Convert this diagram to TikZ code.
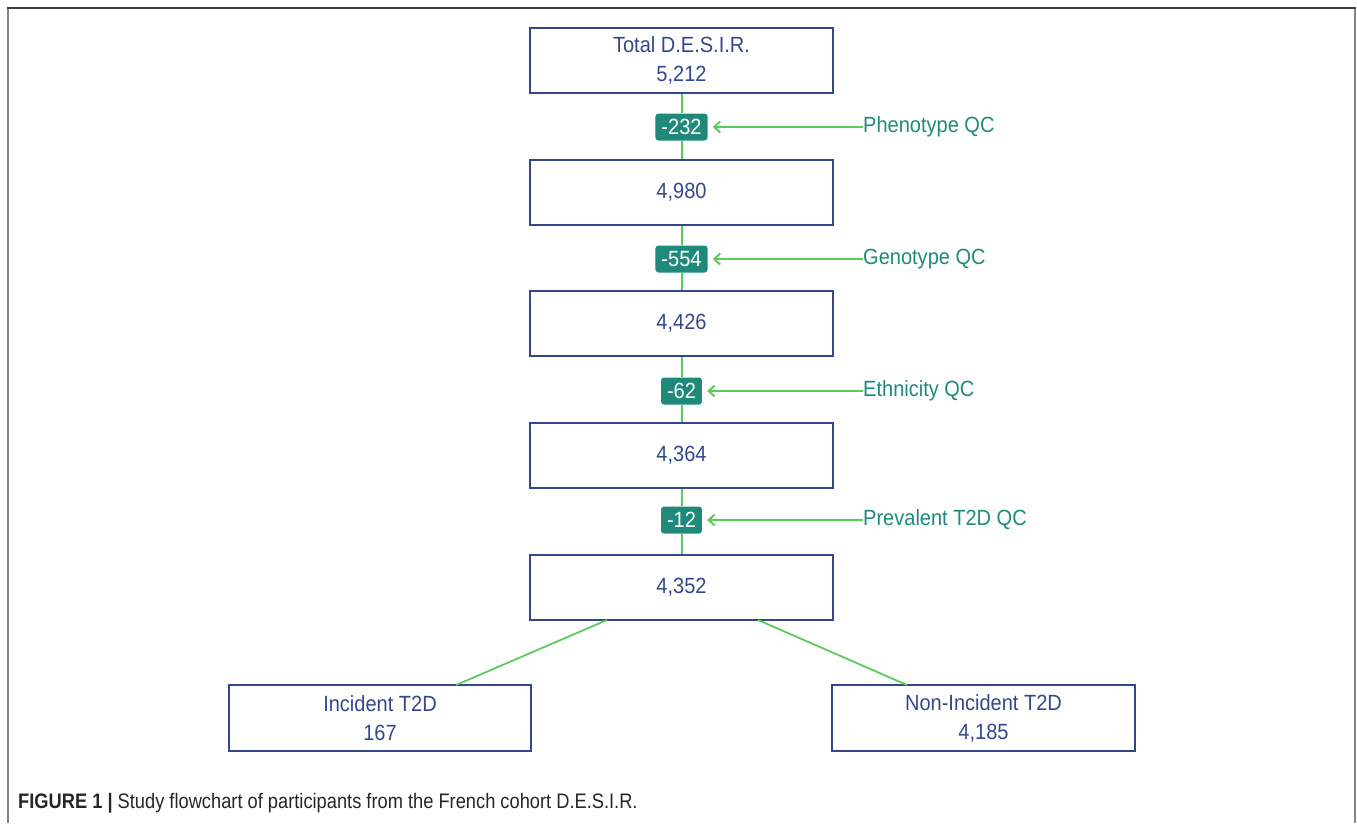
\documentclass[tikz,border=0pt]{standalone}
\usepackage{fontspec}
\setmainfont[FakeStretch=0.91]{Liberation Sans}
\newfontfamily\capfont[FakeStretch=0.87]{Liberation Sans}
\usetikzlibrary{arrows.meta}
\definecolor{navy}{HTML}{34478C}
\definecolor{lgreen}{HTML}{5CCB5C}
\definecolor{teal1}{HTML}{1F8A7C}
\definecolor{frametop}{HTML}{404040}
\definecolor{frameside}{HTML}{858585}
\begin{document}
\begin{tikzpicture}[x=1pt,y=-1pt,
 box/.style={draw=navy, line width=2pt, minimum width=303pt, minimum height=65pt, text=navy, font=\fontsize{22}{29}\selectfont, align=center, inner sep=0pt},
 badge/.style={fill=teal1, text=white, rounded corners=3pt, minimum height=27pt, font=\fontsize{22}{22}\selectfont, inner xsep=6pt, inner ysep=0pt},
 qc/.style={text=teal1, anchor=west, font=\fontsize{22}{22}\selectfont, inner sep=0pt},
 link/.style={draw=lgreen, line width=2pt},
 arr/.style={link, -{Straight Barb[length=6pt,width=11pt]}, shorten >=5pt}]
\useasboundingbox (0,0) rectangle (1357,823);
\draw[line width=2pt, frameside] (8,8) -- (8,823);
\draw[line width=2pt, frameside] (1355,8) -- (1355,823);
\draw[line width=2pt, frametop] (7,8) -- (1356,8);

\node[box] (b1) at (681.5,60.5) {Total D.E.S.I.R.\\5,212};
\node[box] (b2) at (681.5,192.5) {4,980};
\node[box] (b3) at (681.5,323.5) {4,426};
\node[box] (b4) at (681.5,455.5) {4,364};
\node[box] (b5) at (681.5,587.5) {4,352};
\node[box, minimum width=302pt, minimum height=66pt] (inc) at (380,718) {Incident T2D\\167};
\node[box, minimum width=303pt, minimum height=66pt] (non) at (983.5,718) {Non-Incident T2D\\4,185};

\node[badge] (d1) at (681.5,127) {-232};
\node[badge] (d2) at (681.5,259) {-554};
\node[badge] (d3) at (681.5,391) {-62};
\node[badge] (d4) at (681.5,520) {-12};

\draw[link] (b1.south) -- (d1.north);
\draw[link] (d1.south) -- (b2.north);
\draw[link] (b2.south) -- (d2.north);
\draw[link] (d2.south) -- (b3.north);
\draw[link] (b3.south) -- (d3.north);
\draw[link] (d3.south) -- (b4.north);
\draw[link] (b4.south) -- (d4.north);
\draw[link] (d4.south) -- (b5.north);

\node[qc] (q1) at (863,127) {Phenotype QC};
\node[qc] (q2) at (863,259) {Genotype QC};
\node[qc] (q3) at (863,391) {Ethnicity QC};
\node[qc] (q4) at (863,520) {Prevalent T2D QC};
\draw[arr] (q1.west) -- (d1.east);
\draw[arr] (q2.west) -- (d2.east);
\draw[arr] (q3.west) -- (d3.east);
\draw[arr] (q4.west) -- (d4.east);

\coordinate (s1) at (607,620);
\coordinate (s2) at (758,620);
\coordinate (e1) at (456,685);
\coordinate (e2) at (907,685);
\draw[link, line width=1.8pt] (s1) -- (e1);
\draw[link, line width=1.8pt] (s2) -- (e2);

\node[anchor=base west, inner sep=0pt, font=\capfont\fontsize{21}{22}\selectfont, text=black!85] (cap) at (18,808) {\textbf{FIGURE 1 |} Study flowchart of participants from the French cohort D.E.S.I.R.};
\end{tikzpicture}
\end{document}
